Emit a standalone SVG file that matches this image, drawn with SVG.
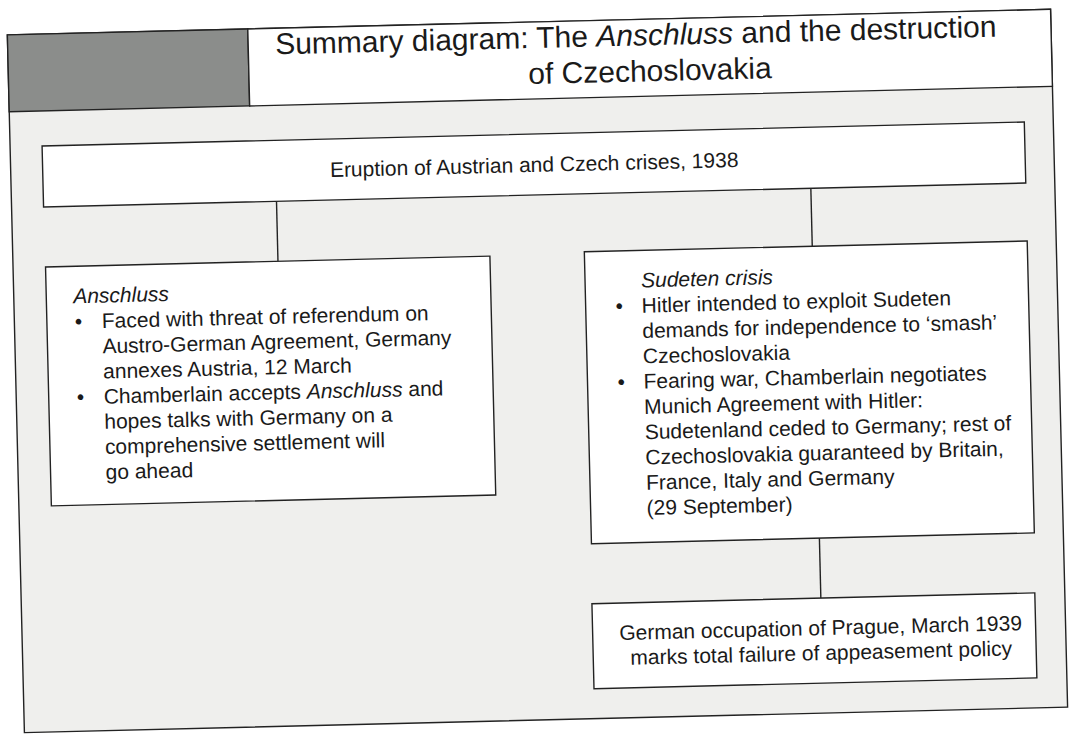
<svg xmlns="http://www.w3.org/2000/svg" width="1069" height="736" viewBox="0 0 1069 736">
  <style>
    .frame { fill: #efefed; stroke: #222; stroke-width: 1.4; }
    .box { fill: #ffffff; stroke: #222; stroke-width: 1.4; }
    .conn { stroke: #222; stroke-width: 1.4; fill: none; }
    text { font-family: "Liberation Sans", Arial, sans-serif; fill: #1a1a1a; }
    .t { font-size: 21px; }
    .title { font-size: 30px; }
    .i { font-style: italic; }
  </style>
  <rect x="0" y="0" width="1069" height="736" fill="#ffffff"/>
  <g transform="rotate(-1.4)">
    <g id="frame">
      <rect class="frame" x="6.5" y="35" width="1043.5" height="698"/>
      <rect x="6.5" y="35" width="240.5" height="77" fill="#8b8d8b" stroke="#222" stroke-width="1.4"/>
      <rect class="box" x="247" y="35" width="803" height="77"/>
    </g>
    <g id="title">
      <text class="title" x="274" y="61">Summary diagram: The <tspan class="i">Anschluss</tspan> and the destruction</text>
      <text class="title" x="648" y="97" text-anchor="middle">of Czechoslovakia</text>
    </g>
    <g id="connectors">
      <line class="conn" x1="271.5" y1="208" x2="271.5" y2="268"/>
      <line class="conn" x1="806" y1="208" x2="806" y2="266"/>
      <line class="conn" x1="806" y1="558" x2="806" y2="618"/>
    </g>
    <g id="eruption">
      <rect class="box" x="38.5" y="147" width="982.5" height="61"/>
      <text class="t" x="530" y="185" text-anchor="middle">Eruption of Austrian and Czech crises, 1938</text>
    </g>
    <g id="anschluss">
      <rect class="box" x="39" y="268" width="444.5" height="239"/>
      <text class="t i" x="66" y="305">Anschluss</text>
      <text class="t" x="67" y="330.5">•</text>
      <text class="t" x="94" y="330.5">Faced with threat of referendum on</text>
      <text class="t" x="94" y="355.7">Austro-German Agreement, Germany</text>
      <text class="t" x="94" y="380.9">annexes Austria, 12 March</text>
      <text class="t" x="67" y="406.1">•</text>
      <text class="t" x="94" y="406.1">Chamberlain accepts <tspan class="i">Anschluss</tspan> and</text>
      <text class="t" x="94" y="431.3">hopes talks with Germany on a</text>
      <text class="t" x="94" y="456.5">comprehensive settlement will</text>
      <text class="t" x="94" y="481.7">go ahead</text>
    </g>
    <g id="sudeten">
      <rect class="box" x="578" y="266" width="443" height="292"/>
      <text class="t i" x="634" y="303">Sudeten crisis</text>
      <text class="t" x="608" y="328.3">•</text>
      <text class="t" x="634" y="328.3">Hitler intended to exploit Sudeten</text>
      <text class="t" x="634" y="353.6">demands for independence to ‘smash’</text>
      <text class="t" x="634" y="378.9">Czechoslovakia</text>
      <text class="t" x="608" y="404.2">•</text>
      <text class="t" x="634" y="404.2">Fearing war, Chamberlain negotiates</text>
      <text class="t" x="634" y="429.5">Munich Agreement with Hitler:</text>
      <text class="t" x="634" y="454.8">Sudetenland ceded to Germany; rest of</text>
      <text class="t" x="634" y="480.1">Czechoslovakia guaranteed by Britain,</text>
      <text class="t" x="634" y="505.4">France, Italy and Germany</text>
      <text class="t" x="634" y="530.7">(29 September)</text>
    </g>
    <g id="prague">
      <rect class="box" x="577" y="618" width="443" height="85"/>
      <text class="t" x="805" y="655" text-anchor="middle">German occupation of Prague, March 1939</text>
      <text class="t" x="805" y="680" text-anchor="middle">marks total failure of appeasement policy</text>
    </g>
  </g>
</svg>
